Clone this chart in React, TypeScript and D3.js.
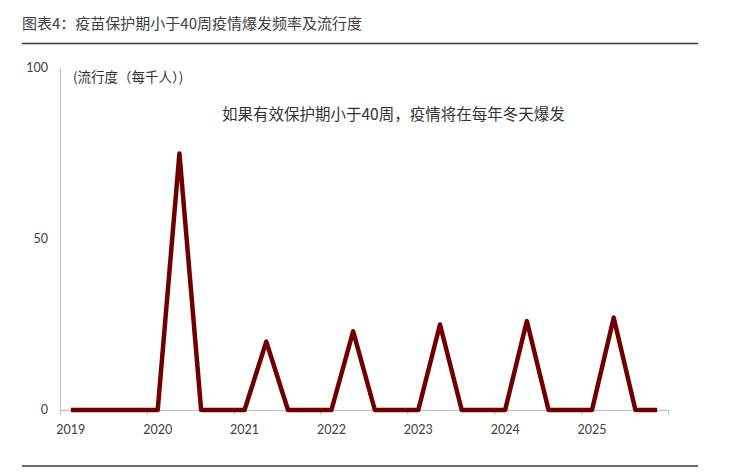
import React from "react";
import * as d3 from "d3";

const quarters: string[] = [];
const years = ["2019", "2020", "2021", "2022", "2023", "2024", "2025"];
years.forEach((y) => ["Q1", "Q2", "Q3", "Q4"].forEach((q) => quarters.push(y + q)));

// prevalence per thousand, quarterly
const prevalence = [
  0, 0, 0, 0,
  0, 75, 0, 0,
  0, 20, 0, 0,
  0, 23, 0, 0,
  0, 25, 0, 0,
  0, 26, 0, 0,
  0, 27, 0, 0,
];

const yTicks = [0, 50, 100];

const title = "图表4：疫苗保护期小于40周疫情爆发频率及流行度";
const unitLabel = "(流行度（每千人）)";
const note = "如果有效保护期小于40周，疫情将在每年冬天爆发";

export default function App() {
  const W = 752;
  const H = 474;
  const x = d3.scaleBand<string>().domain(quarters).range([60, 668]).padding(0);
  const y = d3.scaleLinear().domain([0, 100]).range([410, 68]);
  const cx = (q: string) => (x(q) as number) + x.bandwidth() / 2;

  const line = d3
    .line<number>()
    .x((_, i) => cx(quarters[i]))
    .y((d) => y(d));

  const tickBounds = d3.range(0, quarters.length + 1, 4).map(
    (i) => 60 + i * x.bandwidth()
  );
  const labelFont = "Lato, 'Open Sans', sans-serif";
  const cjkSans = "'Noto Sans CJK SC', sans-serif";

  return (
    <svg
      width={W}
      height={H}
      style={{ position: "absolute", left: 0, top: 0, display: "block", background: "#fff" }}
    >
      <text x={22} y={29} fontSize={15} fill="#404040" fontFamily={cjkSans}>
        {title}
      </text>
      <line x1={22} x2={698} y1={43.5} y2={43.5} stroke="#3a3a3a" strokeWidth={1.5} />
      <line x1={22} x2={698} y1={466} y2={466} stroke="#3a3a3a" strokeWidth={1.5} />

      {/* y axis */}
      <line x1={60.5} x2={60.5} y1={y(100)} y2={y(0)} stroke="#bfbfbf" strokeWidth={1} />
      {yTicks.map((t) => (
        <text
          key={t}
          x={48}
          y={y(t)}
          dy="0.35em"
          textAnchor="end"
          fontSize={12.5}
          fill="#404040"
          fontFamily={labelFont}
        >
          {t}
        </text>
      ))}

      {/* x axis */}
      <line x1={60} x2={668} y1={y(0) + 0.5} y2={y(0) + 0.5} stroke="#bfbfbf" strokeWidth={1} />
      {tickBounds.map((tx, i) => (
        <line
          key={i}
          x1={tx + 0.5}
          x2={tx + 0.5}
          y1={y(0)}
          y2={y(0) + 5}
          stroke="#bfbfbf"
          strokeWidth={1}
        />
      ))}
      {years.map((yr) => (
        <text
          key={yr}
          x={cx(yr + "Q1")}
          y={433.5}
          textAnchor="middle"
          fontSize={12.5}
          fill="#404040"
          fontFamily={labelFont}
        >
          {yr}
        </text>
      ))}

      <path
        d={line(prevalence) || ""}
        fill="none"
        stroke="#6e0000"
        strokeWidth={4.5}
        strokeLinejoin="round"
        strokeLinecap="butt"
      />

      <text x={73} y={82} fontSize={13.5} fill="#333" fontFamily={cjkSans}>
        {unitLabel}
      </text>
      <text x={222} y={120} fontSize={15.5} fill="#333" fontFamily={cjkSans}>
        {note}
      </text>
    </svg>
  );
}
